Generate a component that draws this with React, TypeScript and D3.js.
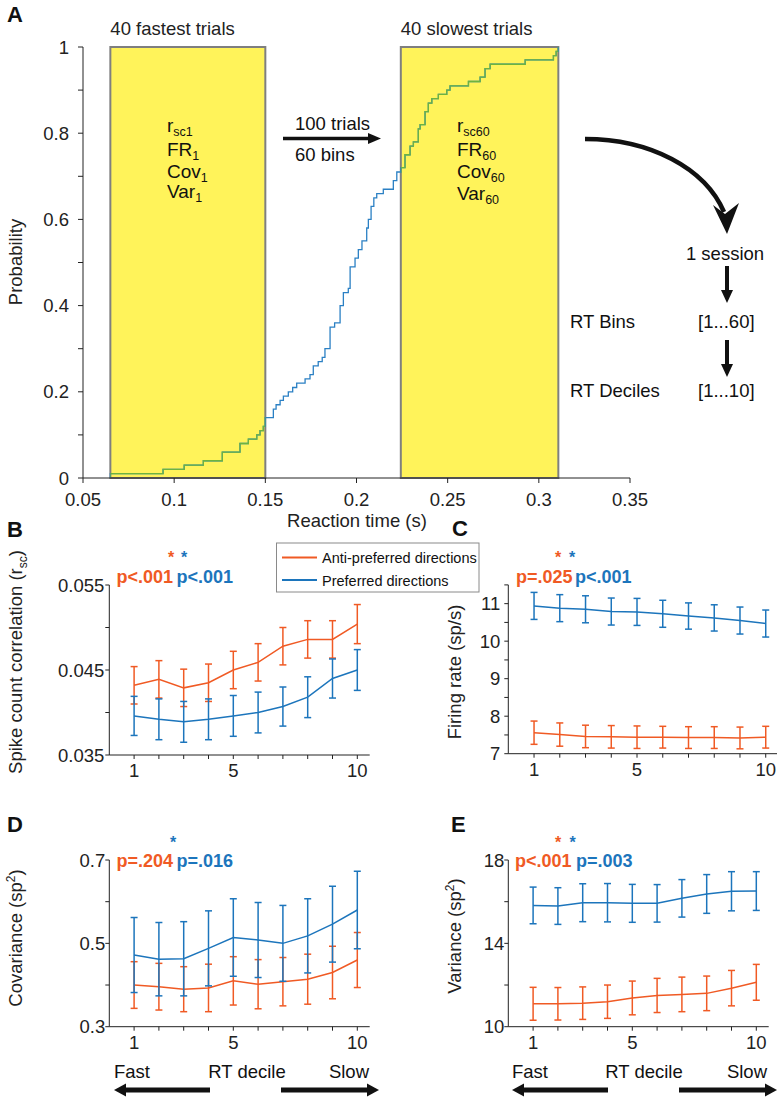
import React from 'react';
import * as d3 from 'd3';

const FONT = '"Liberation Sans", Arial, Helvetica, sans-serif';
const ORANGE = '#f05a24';
const BLUE = '#1c75bc';
const CDF_BLUE = '#2b80c4';
const CDF_GREEN = '#6db33f';
const YELLOW = '#fff35a';
const AXIS = '#222';

// ---------- Panel A data: empirical CDF step vertices (RT s, cumulative prob) ----------
const cdfRT = [
  0.065, 0.065, 0.0939, 0.1055, 0.116, 0.1264, 0.1361, 0.1407, 0.1453, 0.1471, 0.1489, 0.15,
  0.1544, 0.1559, 0.1581, 0.1599, 0.1626, 0.165, 0.1672, 0.1718, 0.1745, 0.1763, 0.179, 0.1812,
  0.1827, 0.1855, 0.188, 0.191, 0.1928, 0.1955, 0.1965, 0.1992, 0.201, 0.203, 0.2056, 0.2065,
  0.208, 0.2095, 0.2111, 0.2147, 0.2202, 0.2221, 0.2243, 0.2266, 0.2294, 0.2312, 0.2339, 0.2349,
  0.2376, 0.2394, 0.2413, 0.2449, 0.2495, 0.2513, 0.2614, 0.2678, 0.2705, 0.2733, 0.2925, 0.308,
  0.3095, 0.3107,
];
const cdfProb = [
  0, 0.01, 0.02, 0.03, 0.04, 0.06, 0.08, 0.09, 0.1, 0.11, 0.12, 0.14,
  0.16, 0.17, 0.18, 0.19, 0.2, 0.21, 0.22, 0.23, 0.24, 0.26, 0.27, 0.28,
  0.3, 0.35, 0.36, 0.4, 0.43, 0.44, 0.49, 0.51, 0.53, 0.55, 0.58, 0.6,
  0.63, 0.65, 0.66, 0.67, 0.69, 0.71, 0.72, 0.75, 0.77, 0.78, 0.81, 0.82,
  0.85, 0.87, 0.88, 0.89, 0.9, 0.91, 0.92, 0.93, 0.95, 0.96, 0.97, 0.98,
  0.99, 1.0,
];
const fastWindow = [0.065, 0.15];
const slowWindow = [0.2243, 0.3107];
const aXTicks = [0.05, 0.1, 0.15, 0.2, 0.25, 0.3, 0.35];
const aXTickLabels = ['0.05', '0.1', '0.15', '0.2', '0.25', '0.3', '0.35'];
const aYTicks = [0, 0.1, 0.2, 0.3, 0.4, 0.5, 0.6, 0.7, 0.8, 0.9, 1];
const aYTickLabels = ['0', '0.2', '0.4', '0.6', '0.8', '1'];

// ---------- Panels B-E data ----------
const deciles = [1, 2, 3, 4, 5, 6, 7, 8, 9, 10];
const decileLabels = [1, 5, 10];

const rscAnti = [0.0432, 0.0439, 0.0429, 0.0435, 0.045, 0.0459, 0.0478, 0.0486, 0.0486, 0.0504];
const rscAntiErr = [0.0022, 0.0022, 0.0022, 0.0022, 0.0022, 0.0022, 0.0022, 0.0022, 0.0022, 0.0023];
const rscPref = [0.0396, 0.0392, 0.0389, 0.0392, 0.0396, 0.04, 0.0407, 0.0418, 0.044, 0.045];
const rscPrefErr = [0.0023, 0.0024, 0.0024, 0.0024, 0.0024, 0.0024, 0.0023, 0.0024, 0.0023, 0.0024];
const rscTicks = [0.035, 0.04, 0.045, 0.05, 0.055];
const rscTickLabels = ['0.035', '0.045', '0.055'];

const frAnti = [7.56, 7.51, 7.46, 7.45, 7.44, 7.44, 7.43, 7.43, 7.42, 7.44];
const frAntiErr = [0.31, 0.31, 0.3, 0.3, 0.3, 0.29, 0.29, 0.29, 0.29, 0.29];
const frPref = [10.94, 10.88, 10.85, 10.79, 10.78, 10.73, 10.67, 10.62, 10.55, 10.47];
const frPrefErr = [0.36, 0.36, 0.36, 0.36, 0.36, 0.36, 0.35, 0.35, 0.36, 0.36];
const frTicks = [7, 7.5, 8, 8.5, 9, 9.5, 10, 10.5, 11, 11.5];
const frTickLabels = ['7', '8', '9', '10', '11'];

const covAnti = [0.4, 0.396, 0.39, 0.393, 0.41, 0.402, 0.408, 0.414, 0.43, 0.46];
const covAntiErr = [0.056, 0.056, 0.054, 0.057, 0.058, 0.059, 0.058, 0.06, 0.063, 0.066];
const covPref = [0.472, 0.462, 0.463, 0.488, 0.514, 0.508, 0.5, 0.518, 0.546, 0.58];
const covPrefErr = [0.09, 0.088, 0.089, 0.09, 0.093, 0.09, 0.091, 0.089, 0.091, 0.093];
const covTicks = [0.3, 0.4, 0.5, 0.6, 0.7];
const covTickLabels = ['0.3', '0.5', '0.7'];

const varAnti = [11.1, 11.1, 11.13, 11.2, 11.38, 11.5, 11.55, 11.6, 11.85, 12.13];
const varAntiErr = [0.79, 0.78, 0.78, 0.8, 0.81, 0.82, 0.83, 0.83, 0.85, 0.86];
const varPref = [15.82, 15.79, 15.95, 15.95, 15.92, 15.92, 16.16, 16.37, 16.5, 16.51];
const varPrefErr = [0.88, 0.88, 0.91, 0.92, 0.91, 0.9, 0.9, 0.93, 0.94, 0.93];
const varTicks = [10, 12, 14, 16, 18];
const varTickLabels = ['10', '14', '18'];

type PanelCfg = {
  x0: number; x1: number; yBottom: number; yTop: number;
  yDomain: [number, number];
  yTicks: number[]; yTickLabels: string[];
  anti: number[]; antiErr: number[]; pref: number[]; prefErr: number[];
  pAnti: string; pPref: string; pAntiX: number; pPrefX: number; pY: number;
  stars: { x: number; color: string }[]; starY: number;
  letter: string; letterX: number; letterY: number;
  yLabel: React.ReactNode; yLabelX: number; yLabelY: number;
  labelGap: number;
};

function Series({ xs, ys, vals, errs, color }: { xs: d3.ScaleLinear<number, number>; ys: d3.ScaleLinear<number, number>; vals: number[]; errs: number[]; color: string }) {
  const pts = deciles.map((d, i) => [d, vals[i]] as [number, number]);
  const line = d3.line<[number, number]>().x(d => xs(d[0])).y(d => ys(d[1]));
  const cap = 3.5;
  return (
    <g>
      {deciles.map((d, i) => {
        const x = xs(d);
        const yt = ys(vals[i] + errs[i]);
        const yb = ys(vals[i] - errs[i]);
        return (
          <g key={i} stroke={color} strokeWidth={1.5}>
            <line x1={x} x2={x} y1={yt} y2={yb} />
            <line x1={x - cap} x2={x + cap} y1={yt} y2={yt} />
            <line x1={x - cap} x2={x + cap} y1={yb} y2={yb} />
          </g>
        );
      })}
      <path d={line(pts) || ''} fill="none" stroke={color} strokeWidth={1.5} />
    </g>
  );
}

function Panel({ c }: { c: PanelCfg }) {
  const xs = d3.scaleLinear().domain([0, 10.5]).range([c.x0, c.x1]);
  const ys = d3.scaleLinear().domain(c.yDomain).range([c.yBottom, c.yTop]);
  return (
    <g fontFamily={FONT}>
      <text x={c.letterX} y={c.letterY} fontSize={22} fontWeight="bold" fill="#111">{c.letter}</text>
      {/* axes */}
      <line x1={c.x0} x2={c.x0} y1={c.yBottom} y2={c.yTop} stroke={AXIS} strokeWidth={1} />
      <line x1={c.x0} x2={c.x1} y1={c.yBottom} y2={c.yBottom} stroke={AXIS} strokeWidth={1} />
      {c.yTicks.map((t, i) => (
        <line key={i} x1={c.x0 - 4} x2={c.x0} y1={ys(t)} y2={ys(t)} stroke={AXIS} strokeWidth={1} />
      ))}
      {c.yTickLabels.map((l, i) => (
        <text key={i} x={c.x0 - c.labelGap} y={ys(+l) + 6.5} fontSize={18.5} textAnchor="end" fill="#222">{l}</text>
      ))}
      {deciles.map((d, i) => (
        <line key={i} x1={xs(d)} x2={xs(d)} y1={c.yBottom} y2={c.yBottom + 4} stroke={AXIS} strokeWidth={1} />
      ))}
      {decileLabels.map((d, i) => (
        <text key={i} x={xs(d)} y={c.yBottom + 22} fontSize={18.5} textAnchor="middle" fill="#222">{d}</text>
      ))}
      <text transform={`translate(${c.yLabelX},${c.yLabelY}) rotate(-90)`} fontSize={18.5} textAnchor="middle" fill="#222">{c.yLabel}</text>
      {/* data */}
      <Series xs={xs} ys={ys} vals={c.anti} errs={c.antiErr} color={ORANGE} />
      <Series xs={xs} ys={ys} vals={c.pref} errs={c.prefErr} color={BLUE} />
      {/* stats */}
      <text x={c.pAntiX} y={c.pY} fontSize={18} fontWeight="bold" fill={ORANGE}>{c.pAnti}</text>
      <text x={c.pPrefX} y={c.pY} fontSize={18} fontWeight="bold" fill={BLUE}>{c.pPref}</text>
      {c.stars.map((s, i) => (
        <text key={i} x={s.x} y={c.starY} fontSize={16} fontWeight="bold" fill={s.color} textAnchor="middle">*</text>
      ))}
    </g>
  );
}

function Arrow({ x1, y1, x2, y2, w, head, hw }: { x1: number; y1: number; x2: number; y2: number; w: number; head: number; hw: number }) {
  const dx = x2 - x1, dy = y2 - y1;
  const len = Math.sqrt(dx * dx + dy * dy);
  const ux = dx / len, uy = dy / len;
  const bx = x2 - ux * head, by = y2 - uy * head;
  const px = -uy, py = ux;
  return (
    <g fill="#111" stroke="none">
      <line x1={x1} y1={y1} x2={bx + ux * 1} y2={by + uy * 1} stroke="#111" strokeWidth={w} />
      <polygon points={`${x2},${y2} ${bx + px * hw},${by + py * hw} ${bx - px * hw},${by - py * hw}`} />
    </g>
  );
}

export default function App() {
  const xA = d3.scaleLinear().domain([0.05, 0.35]).range([83, 630]);
  const yA = d3.scaleLinear().domain([0, 1]).range([478, 47]);
  const pts = cdfRT.map((r, i) => [r, cdfProb[i]] as [number, number]);
  const stepLine = d3.line<[number, number]>().x(d => xA(d[0])).y(d => yA(d[1])).curve(d3.curveStepAfter);
  const cdfPath = stepLine(pts) || '';

  const windows = [fastWindow, slowWindow];

  const panels: PanelCfg[] = [
    {
      x0: 109.3, x1: 369.7, yBottom: 755, yTop: 585, yDomain: [0.035, 0.055],
      yTicks: rscTicks, yTickLabels: rscTickLabels,
      anti: rscAnti, antiErr: rscAntiErr, pref: rscPref, prefErr: rscPrefErr,
      pAnti: 'p<.001', pPref: 'p<.001', pAntiX: 116.5, pPrefX: 176.5, pY: 583,
      stars: [{ x: 171, color: ORANGE }, { x: 184, color: BLUE }], starY: 563,
      letter: 'B', letterX: 7, letterY: 537,
      yLabel: (<>Spike count correlation (r<tspan fontSize={12} dy={5}>sc</tspan><tspan dy={-5}>)</tspan></>),
      yLabelX: 22, yLabelY: 662, labelGap: 5,
    },
    {
      x0: 508.3, x1: 778.6, yBottom: 753.7, yTop: 584.9, yDomain: [7, 11.5],
      yTicks: frTicks, yTickLabels: frTickLabels,
      anti: frAnti, antiErr: frAntiErr, pref: frPref, prefErr: frPrefErr,
      pAnti: 'p=.025', pPref: 'p<.001', pAntiX: 516, pPrefX: 575, pY: 583,
      stars: [{ x: 558, color: ORANGE }, { x: 572, color: BLUE }], starY: 563,
      letter: 'C', letterX: 452, letterY: 536,
      yLabel: 'Firing rate (sp/s)',
      yLabelX: 461, yLabelY: 672, labelGap: 8,
    },
    {
      x0: 109.3, x1: 369.7, yBottom: 1026.7, yTop: 860, yDomain: [0.3, 0.7],
      yTicks: covTicks, yTickLabels: covTickLabels,
      anti: covAnti, antiErr: covAntiErr, pref: covPref, prefErr: covPrefErr,
      pAnti: 'p=.204', pPref: 'p=.016', pAntiX: 116.5, pPrefX: 176.5, pY: 867,
      stars: [{ x: 173, color: BLUE }], starY: 847.5,
      letter: 'D', letterX: 7, letterY: 832,
      yLabel: (<>Covariance (sp<tspan fontSize={12} dy={-7}>2</tspan><tspan dy={7}>)</tspan></>),
      yLabelX: 22, yLabelY: 938, labelGap: 4,
    },
    {
      x0: 508.3, x1: 768.7, yBottom: 1026.7, yTop: 860, yDomain: [10, 18],
      yTicks: varTicks, yTickLabels: varTickLabels,
      anti: varAnti, antiErr: varAntiErr, pref: varPref, prefErr: varPrefErr,
      pAnti: 'p<.001', pPref: 'p=.003', pAntiX: 515, pPrefX: 576, pY: 867,
      stars: [{ x: 558, color: ORANGE }, { x: 572.5, color: BLUE }], starY: 847.5,
      letter: 'E', letterX: 451, letterY: 832,
      yLabel: (<>Variance (sp<tspan fontSize={12} dy={-7}>2</tspan><tspan dy={7}>)</tspan></>),
      yLabelX: 461, yLabelY: 936, labelGap: 4,
    },
  ];

  const sub = (main: string, s: string, x: number, y: number, key: string) => (
    <text key={key} x={x} y={y} fontSize={19} fill="#111">
      {main}<tspan fontSize={12.5} dy={4}>{s}</tspan>
    </text>
  );

  return (
    <div style={{ position: 'absolute', left: 0, top: 0 }}>
      <svg width={777} height={1097} style={{ display: 'block', background: '#fff' }} fontFamily={FONT}>
        <defs>
          <clipPath id="winClip">
            {windows.map((w, i) => (
              <rect key={i} x={xA(w[0])} y={yA(1) - 2} width={xA(w[1]) - xA(w[0])} height={yA(0) - yA(1) + 4} />
            ))}
          </clipPath>
        </defs>

        {/* ---------- Panel A ---------- */}
        <text x={7} y={22} fontSize={22} fontWeight="bold" fill="#111">A</text>
        {windows.map((w, i) => (
          <rect key={i} x={xA(w[0])} y={yA(1)} width={xA(w[1]) - xA(w[0])} height={yA(0) - yA(1)}
            fill={YELLOW} stroke="#7f7f7f" strokeWidth={2} />
        ))}
        <path d={cdfPath} fill="none" stroke={CDF_BLUE} strokeWidth={1.3} />
        <path d={cdfPath} fill="none" stroke={CDF_GREEN} strokeWidth={1.3} clipPath="url(#winClip)" />

        {/* axes A */}
        <line x1={xA(0.05)} x2={xA(0.05)} y1={yA(0)} y2={yA(1)} stroke={AXIS} />
        <line x1={xA(0.05)} x2={xA(0.35)} y1={yA(0)} y2={yA(0)} stroke={AXIS} />
        {aYTicks.map((t, i) => (
          <line key={i} x1={xA(0.05) - 5} x2={xA(0.05)} y1={yA(t)} y2={yA(t)} stroke={AXIS} />
        ))}
        {aYTickLabels.map((l, i) => (
          <text key={i} x={xA(0.05) - 14} y={yA(+l) + 6.5} fontSize={18.5} textAnchor="end" fill="#222">{l}</text>
        ))}
        {aXTicks.map((t, i) => (
          <line key={i} x1={xA(t)} x2={xA(t)} y1={yA(0)} y2={yA(0) + 5} stroke={AXIS} />
        ))}
        {aXTickLabels.map((l, i) => (
          <text key={i} x={xA(aXTicks[i])} y={506} fontSize={18.5} textAnchor="middle" fill="#222">{l}</text>
        ))}
        <text x={357} y={527} fontSize={18.5} textAnchor="middle" fill="#222">Reaction time (s)</text>
        <text transform={`translate(22,262) rotate(-90)`} fontSize={18.5} textAnchor="middle" fill="#222">Probability</text>

        {/* window annotations */}
        <text x={xA(fastWindow[0])} y={35} fontSize={18.5} fill="#222">40 fastest trials</text>
        <text x={xA(slowWindow[0])} y={35} fontSize={18.5} fill="#222">40 slowest trials</text>
        {sub('r', 'sc1', 167, 132, 'a1')}
        {sub('FR', '1', 167, 156, 'a2')}
        {sub('Cov', '1', 167, 178, 'a3')}
        {sub('Var', '1', 167, 198, 'a4')}
        {sub('r', 'sc60', 457, 132, 'b1')}
        {sub('FR', '60', 457, 156, 'b2')}
        {sub('Cov', '60', 457, 178, 'b3')}
        {sub('Var', '60', 457, 200, 'b4')}

        <text x={295} y={130} fontSize={18.5} fill="#111">100 trials</text>
        <text x={295} y={161} fontSize={18.5} fill="#111">60 bins</text>
        <Arrow x1={283} y1={138.5} x2={381} y2={138.5} w={3.5} head={13} hw={5.5} />

        {/* curved arrow */}
        <path d="M585,139 C650,139 705,168 724,212" fill="none" stroke="#111" strokeWidth={4.5} />
        <polygon points="727,234 713,205 725,214 739,203" fill="#111" />

        <text x={725} y={260} fontSize={18.5} textAnchor="middle" fill="#111">1 session</text>
        <Arrow x1={727} y1={266} x2={727} y2={303} w={4} head={13} hw={6} />
        <text x={570} y={328} fontSize={18.5} fill="#111">RT Bins</text>
        <text x={698} y={328} fontSize={18.5} fill="#111">[1...60]</text>
        <Arrow x1={727} y1={340} x2={727} y2={377} w={4} head={13} hw={6} />
        <text x={570} y={397} fontSize={18.5} fill="#111">RT Deciles</text>
        <text x={698} y={397} fontSize={18.5} fill="#111">[1...10]</text>

        {/* ---------- Panels B-E ---------- */}
        {panels.map((c, i) => <Panel key={i} c={c} />)}

        {/* legend */}
        <g fontFamily={FONT}>
          <rect x={276.5} y={543} width={202.5} height={49} fill="#fff" stroke="#8a8a8a" strokeWidth={1} />
          <line x1={282} x2={317} y1={557.5} y2={557.5} stroke={ORANGE} strokeWidth={2} />
          <line x1={282} x2={317} y1={580} y2={580} stroke={BLUE} strokeWidth={2} />
          <text x={322} y={563} fontSize={14.5} fill="#111">Anti-preferred directions</text>
          <text x={322} y={585.5} fontSize={14.5} fill="#111">Preferred directions</text>
        </g>

        {/* fast / slow annotations */}
        {[{ l: 114, c: 247, r: 369, al: 210, ar: 281 }, { l: 512, c: 644, r: 767, al: 608, ar: 679 }].map((a, i) => (
          <g key={i}>
            <text x={a.l} y={1078} fontSize={18.5} fill="#111">Fast</text>
            <text x={a.c} y={1078} fontSize={18.5} fill="#111" textAnchor="middle">RT decile</text>
            <text x={a.r} y={1078} fontSize={18.5} fill="#111" textAnchor="end">Slow</text>
            <Arrow x1={a.al} y1={1090} x2={a.l} y2={1090} w={5} head={12} hw={6.5} />
            <Arrow x1={a.ar} y1={1090} x2={a.r + 10} y2={1090} w={5} head={12} hw={6.5} />
          </g>
        ))}
      </svg>
    </div>
  );
}
